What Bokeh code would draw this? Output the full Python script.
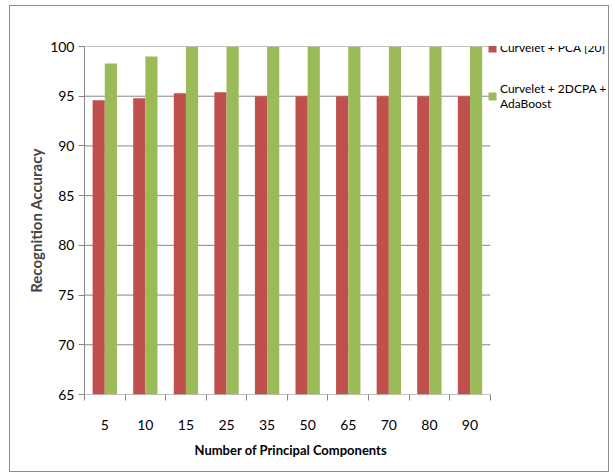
from bokeh.plotting import figure
from bokeh.models import (Range1d, LinearAxis, FixedTicker, Legend, LegendItem, Title)
from bokeh.transform import dodge
from bokeh.embed import file_html
from bokeh.resources import INLINE

components = ["5", "10", "15", "25", "35", "50", "65", "70", "80", "90"]
pca = [94.6, 94.8, 95.3, 95.4, 95.0, 95.0, 95.0, 95.0, 95.0, 95.0]
adaboost = [98.3, 99.0, 100, 100, 100, 100, 100, 100, 100, 100]
y_ticks = [65, 70, 75, 80, 85, 90, 95, 100]
series_names = ["Curvelet + PCA [20]", "Curvelet + 2DCPA +\nAdaBoost"]

FONT = "Lato"
RED = "#C0504D"
GREEN = "#9BBB59"
GRID = "#868686"

n = len(components)
centers = [i + 0.5 for i in range(n)]
data = dict(xc=centers, pca=pca, ada=adaboost)

# the frame extends under the legend; bars occupy the left 405 of 525 px
FRAME_W, BARS_W = 525, 405

p = figure(width=600, height=467, x_range=Range1d(0, n * FRAME_W / BARS_W), y_range=Range1d(65, 100),
           x_axis_location=None, y_axis_location=None, output_backend="svg",
           toolbar_location=None, min_border_left=74, min_border_right=0,
           min_border_top=40, min_border_bottom=79)
p.margin = (5, 4, 0, 9)
p.styles = {"border": "1px solid #8c8c8c"}
p.outline_line_color = None
for g in p.grid:
    g.visible = False

# horizontal gridlines (limited to the category area)
p.segment(x0=0, x1=n, y0=y_ticks, y1=y_ticks, line_color=GRID, line_width=1)

r1 = p.vbar(x=dodge("xc", -0.15), top="pca", bottom=65, width=0.3,
            source=data, color=RED, line_color=None)
r2 = p.vbar(x=dodge("xc", 0.15), top="ada", bottom=65, width=0.3,
            source=data, color=GREEN, line_color=None)

# y axis
yax = LinearAxis(ticker=FixedTicker(ticks=y_ticks))
yax.axis_line_color = GRID
yax.major_tick_line_color = GRID
yax.major_tick_in = 0
yax.major_tick_out = 6
yax.minor_tick_line_color = None
yax.major_label_text_font = FONT
yax.major_label_text_font_size = "14px"
yax.major_label_text_color = "#000000"
yax.major_label_standoff = 4
yax.axis_label = "Recognition Accuracy"
yax.axis_label_text_font = FONT
yax.axis_label_text_font_style = "bold"
yax.axis_label_text_font_size = "15px"
yax.axis_label_standoff = 2
p.add_layout(yax, "left")

# boundary ticks axis
bax = LinearAxis(ticker=FixedTicker(ticks=list(range(n + 1))))
bax.axis_line_color = None
bax.major_tick_line_color = GRID
bax.major_tick_in = 0
bax.major_tick_out = 6
bax.minor_tick_line_color = None
bax.major_label_text_font_size = "1px"
bax.major_label_text_alpha = 0
bax.major_label_standoff = 0
p.add_layout(bax, "below")

xax = LinearAxis(ticker=FixedTicker(ticks=centers))
xax.major_label_overrides = {c: lab for c, lab in zip(centers, components)}
xax.axis_line_color = None
xax.major_tick_line_color = None
xax.minor_tick_line_color = None
xax.major_label_text_font = FONT
xax.major_label_text_font_size = "14px"
xax.major_label_text_color = "#000000"
xax.major_label_standoff = 13
p.add_layout(xax, "below")

xtitle = Title(text="Number of Principal Components", align="left", offset=110,
               text_font=FONT, text_font_style="bold", text_font_size="13px",
               text_color="#000000", standoff=14)
p.add_layout(xtitle, "below")

legend = Legend(items=[LegendItem(label=series_names[0], renderers=[r1]),
                       LegendItem(label=series_names[1], renderers=[r2])],
                location=(403, 283), orientation="vertical")
legend.border_line_color = None
legend.background_fill_alpha = 0
legend.padding = 0
legend.margin = 0
legend.spacing = 26
legend.glyph_width = 10
legend.glyph_height = 10
legend.label_standoff = 3
legend.label_text_font = FONT
legend.label_text_font_size = "12px"
legend.label_text_color = "#000000"
legend.label_text_line_height = 1.65
p.add_layout(legend, "center")

open("out.html", "w").write(file_html(p, INLINE))
